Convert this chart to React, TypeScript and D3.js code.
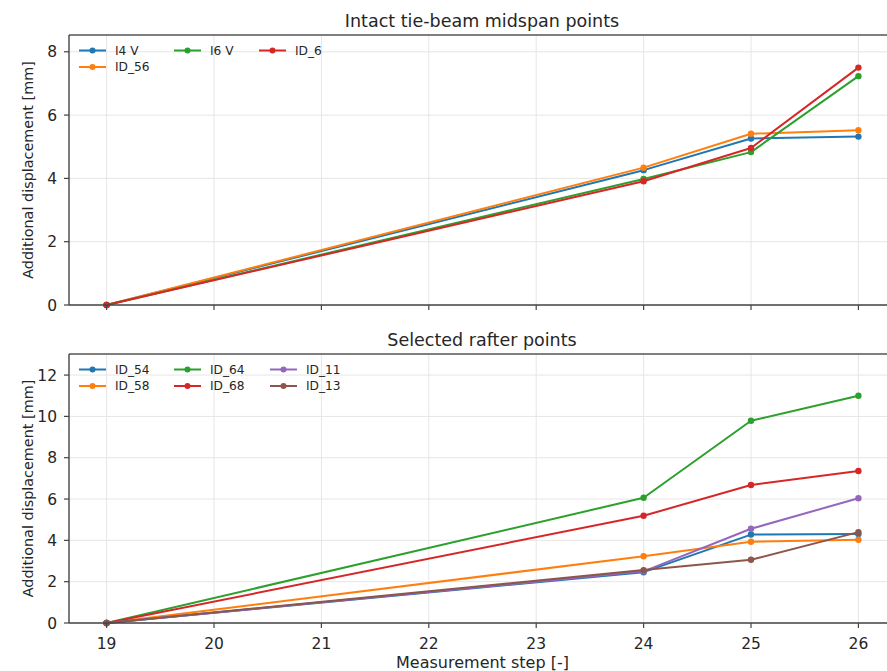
import React from "react";
import * as d3 from "d3";

const steps = [19, 24, 25, 26];
const xTicks = [19, 20, 21, 22, 23, 24, 25, 26];

const topNames = ["I4 V", "ID_56", "I6 V", "ID_6"];
const topColors = ["#1f77b4", "#ff7f0e", "#2ca02c", "#d62728"];
const topI4V = [0, 4.26, 5.26, 5.32];
const topID56 = [0, 4.34, 5.41, 5.52];
const topI6V = [0, 3.98, 4.83, 7.23];
const topID6 = [0, 3.91, 4.96, 7.5];
const topSeries = [topI4V, topID56, topI6V, topID6];
const topYTicks = [0, 2, 4, 6, 8];

const botNames = ["ID_54", "ID_58", "ID_64", "ID_68", "ID_11", "ID_13"];
const botColors = ["#1f77b4", "#ff7f0e", "#2ca02c", "#d62728", "#9467bd", "#8c564b"];
const botID54 = [0, 2.46, 4.28, 4.31];
const botID58 = [0, 3.23, 3.93, 4.03];
const botID64 = [0, 6.06, 9.79, 11.0];
const botID68 = [0, 5.19, 6.68, 7.36];
const botID11 = [0, 2.5, 4.56, 6.04];
const botID13 = [0, 2.56, 3.06, 4.4];
const botSeries = [botID54, botID58, botID64, botID68, botID11, botID13];
const botYTicks = [0, 2, 4, 6, 8, 10, 12];

const FONT = "DejaVu Sans, sans-serif";
const W = 887;
const H = 671;
const LEFT = 69;
const RIGHT = 896;

const x = d3.scaleLinear().domain([18.65, 26.35]).range([LEFT, RIGHT]);

// matplotlib-style legend column distribution
function legendLayout(n: number, ncol: number): { col: number; row: number }[] {
  const base = Math.floor(n / ncol);
  const extra = n % ncol;
  const out: { col: number; row: number }[] = [];
  let idx = 0;
  for (let c = 0; c < ncol; c++) {
    const cnt = base + (c < extra ? 1 : 0);
    for (let r = 0; r < cnt; r++) {
      out[idx++] = { col: c, row: r };
    }
  }
  return out;
}

type PanelProps = {
  top: number;
  bottom: number;
  yMax: number;
  yTicks: number[];
  names: string[];
  colors: string[];
  series: number[][];
  title: string;
  showXLabels: boolean;
  legendCols: number[];
};

function Panel(p: PanelProps) {
  const y = d3.scaleLinear().domain([0, p.yMax]).range([p.bottom, p.top]);
  const line = d3
    .line<number>()
    .x((_, i) => x(steps[i]))
    .y((d) => y(d));
  const layout = legendLayout(p.names.length, 3);
  const legendTop = p.top + 15.5;
  const rowH = 16.5;
  return (
    <g>
      <defs>
        <clipPath id={"clip" + p.top}>
          <rect x={LEFT} y={p.top - 6} width={RIGHT - LEFT} height={p.bottom - p.top + 12} />
        </clipPath>
      </defs>
      {xTicks.map((t) => (
        <line key={"gx" + t} x1={x(t)} x2={x(t)} y1={p.top} y2={p.bottom} stroke="#e6e6e6" strokeWidth={1} />
      ))}
      {p.yTicks.map((t) => (
        <line key={"gy" + t} x1={LEFT} x2={RIGHT} y1={y(t)} y2={y(t)} stroke="#e6e6e6" strokeWidth={1} />
      ))}
      <g clipPath={`url(#clip${p.top})`}>
        {p.series.map((s, i) => (
          <g key={"s" + i}>
            <path d={line(s) || ""} fill="none" stroke={p.colors[i]} strokeWidth={2} strokeLinejoin="round" />
            {s.map((v, j) => (
              <circle key={j} cx={x(steps[j])} cy={y(v)} r={3.2} fill={p.colors[i]} />
            ))}
          </g>
        ))}
      </g>
      <line x1={LEFT} x2={RIGHT} y1={p.top} y2={p.top} stroke="#555" strokeWidth={1.4} />
      <line x1={LEFT} x2={RIGHT} y1={p.bottom} y2={p.bottom} stroke="#444" strokeWidth={1.4} />
      <line x1={LEFT} x2={LEFT} y1={p.top} y2={p.bottom} stroke="#444" strokeWidth={1.4} />
      {p.yTicks.map((t) => (
        <g key={"yt" + t}>
          <line x1={LEFT - 5} x2={LEFT} y1={y(t)} y2={y(t)} stroke="#444" strokeWidth={1.2} />
          <text x={LEFT - 12} y={y(t)} dy="0.36em" textAnchor="end" fontFamily={FONT} fontSize={15.5} fill="#262626">
            {t}
          </text>
        </g>
      ))}
      {xTicks.map((t) => (
        <g key={"xt" + t}>
          <line x1={x(t)} x2={x(t)} y1={p.bottom} y2={p.bottom + 5} stroke="#444" strokeWidth={1.2} />
          {p.showXLabels && (
            <text x={x(t)} y={p.bottom + 26} textAnchor="middle" fontFamily={FONT} fontSize={15.5} fill="#262626">
              {t}
            </text>
          )}
        </g>
      ))}
      <text x={482} y={p.top - 8} textAnchor="middle" fontFamily={FONT} fontSize={17.5} fill="#262626">
        {p.title}
      </text>
      <text
        transform={`translate(${28},${(p.top + p.bottom) / 2}) rotate(-90)`}
        textAnchor="middle"
        dy="0.36em"
        fontFamily={FONT}
        fontSize={14.4}
        fill="#262626"
      >
        Additional displacement [mm]
      </text>
      {p.names.map((n, i) => {
        const { col, row } = layout[i];
        const lx = p.legendCols[col];
        const ly = legendTop + row * rowH;
        return (
          <g key={"lg" + i}>
            <line x1={lx} x2={lx + 27} y1={ly} y2={ly} stroke={p.colors[i]} strokeWidth={2} />
            <circle cx={lx + 13.5} cy={ly} r={3} fill={p.colors[i]} />
            <text x={lx + 36} y={ly} dy="0.36em" fontFamily={FONT} fontSize={12.2} fill="#262626">
              {n}
            </text>
          </g>
        );
      })}
    </g>
  );
}

export default function App() {
  return (
    <svg width={W} height={H} style={{ position: "absolute", left: 0, top: 0, background: "#fff" }}>
      <rect x={0} y={0} width={W} height={H} fill="#fff" />
      <Panel
        top={35}
        bottom={305}
        yMax={8.53}
        yTicks={topYTicks}
        names={topNames}
        colors={topColors}
        series={topSeries}
        title="Intact tie-beam midspan points"
        showXLabels={false}
        legendCols={[79, 174, 259]}
      />
      <Panel
        top={354}
        bottom={623}
        yMax={13.02}
        yTicks={botYTicks}
        names={botNames}
        colors={botColors}
        series={botSeries}
        title="Selected rafter points"
        showXLabels={true}
        legendCols={[79, 174, 270]}
      />
      <text x={x(22.5)} y={668} textAnchor="middle" fontFamily={FONT} fontSize={16} fill="#262626">
        Measurement step [-]
      </text>
    </svg>
  );
}
